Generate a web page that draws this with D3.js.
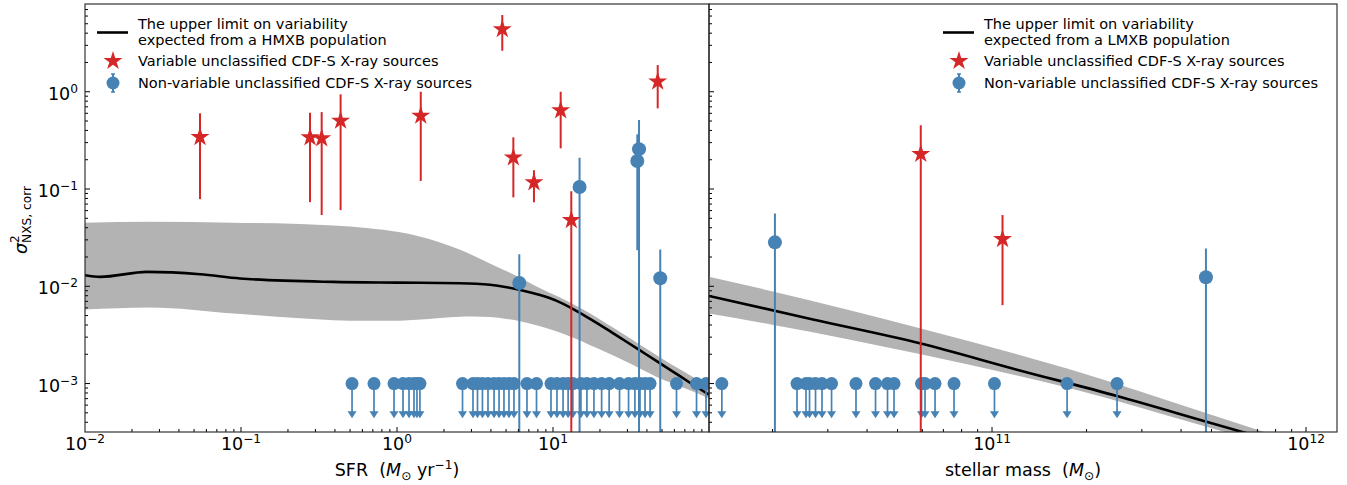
<!DOCTYPE html>
<html><head><meta charset="utf-8">
<script src="https://cdn.jsdelivr.net/npm/d3@7"></script>
<style>
body{margin:0;background:#fff}
svg{display:block}
text{font-family:"DejaVu Sans",sans-serif;fill:#000;white-space:pre}
</style>
</head><body><svg id="c" width="1347" height="485"></svg>
<script>
// ---------------- DATA ----------------
// Left panel: SFR (Msun/yr)
const hmxbX = [0.01, 0.0125, 0.025, 0.0546, 0.0986, 0.389, 1.0, 2.535, 3.945, 5.047, 6.457, 8.26, 10.57, 13.49, 17.26, 22.08, 28.25, 36.14, 46.24, 59.02, 75.51, 100];
const hmxbY = [0.0130, 0.0125, 0.01406, 0.0133, 0.01202, 0.01109, 0.01090, 0.01076, 0.01035, 0.00977, 0.00902, 0.00813, 0.00708, 0.00582, 0.00462, 0.00363, 0.00282, 0.00219, 0.00170, 0.00132, 0.00102, 0.000767];
const hmxbBandX  = [0.01, 0.0261, 0.0893, 0.239, 0.391, 0.64, 1.045, 1.337, 1.89, 2.54, 3.08, 3.94, 5.05, 6.46, 8.26, 10.6, 13.5, 17.3, 22.1, 28.2, 36.1, 46.2, 59.0, 75.5, 100];
const hmxbBandHi = [0.0449, 0.0460, 0.0449, 0.0437, 0.0422, 0.0398, 0.0359, 0.0331, 0.0282, 0.0237, 0.0207, 0.0172, 0.01429, 0.01175, 0.00955, 0.00794, 0.00653, 0.00525, 0.00412, 0.00324, 0.00251, 0.00195, 0.00153, 0.00122, 0.000933];
const hmxbBandLo = [0.00577, 0.00605, 0.00525, 0.00468, 0.00448, 0.00441, 0.00443, 0.00452, 0.00472, 0.00485, 0.00488, 0.00482, 0.00462, 0.00430, 0.00389, 0.00343, 0.00295, 0.00248, 0.00209, 0.00174, 0.00143, 0.00117, 0.0010, 0.000851, 0.000701];

const sfrVarX  = [0.0546, 0.277, 0.329, 0.435, 1.42, 4.73, 5.57, 7.55, 11.2, 13.1, 46.9];
const sfrVarY  = [0.342, 0.339, 0.332, 0.503, 0.566, 4.39, 0.211, 0.117, 0.644, 0.0479, 1.27];
const sfrVarHi = [0.60, 0.608, 0.618, 0.94, 1.0, 6.15, 0.34, 0.156, 1.0, 0.095, 1.88];
const sfrVarLo = [0.0787, 0.0733, 0.054, 0.0607, 0.121, 2.64, 0.082, 0.073, 0.262, 1e-6, 0.675];

const sfrNonX  = [6.08, 14.8, 34.7, 35.6, 48.7];
const sfrNonY  = [0.0108, 0.105, 0.194, 0.257, 0.0121];
const sfrNonHi = [0.0214, 0.21, 0.365, 0.512, 0.0239];
const sfrNonLo = [1e-6, 1e-6, 0.0235, 1e-6, 1e-6];

const sfrLimX = [0.515, 0.712, 0.957, 1.093, 1.194, 1.285, 1.343, 1.403, 2.63, 3.07, 3.28, 3.53, 3.83, 4.19, 4.51, 4.85, 5.22, 5.62, 6.81, 7.84, 9.71, 10.6, 11.6, 12.5, 13.4, 15.1, 16.5, 18.3, 20.5, 22.9, 26.7, 30.5, 33.5, 36.1, 38.9, 41.9, 61.9, 83.2, 95.7];

// Right panel: stellar mass (Msun)
const lmxbX = [1.255e10, 2.69e10, 5.93e10, 1.2e11, 2.5e11, 4.85e11, 1.255e12];
const lmxbY = [0.00796, 0.00456, 0.00258, 0.00139, 0.000745, 0.000403, 0.000167];
const lmxbBandX  = [1.255e10, 2.035e10, 5.93e10, 1.734e11, 4.85e11, 1.255e12];
const lmxbBandHi = [0.0125, 0.00875, 0.00368, 0.001426, 0.000491, 0.000182];
const lmxbBandLo = [0.00525, 0.00398, 0.0020, 0.00091, 0.000357, 0.000148];

const massVarX  = [5.93e10, 1.08e11];
const massVarY  = [0.229, 0.0305];
const massVarHi = [0.453, 0.054];
const massVarLo = [1e-6, 0.0064];

const massNonX  = [2.035e10, 4.8e11];
const massNonY  = [0.0283, 0.0124];
const massNonHi = [0.056, 0.0244];
const massNonLo = [1e-6, 1e-6];

const massLimX = [1.379e10, 2.393e10, 2.556e10, 2.623e10, 2.741e10, 2.874e10, 3.083e10, 3.688e10, 4.256e10, 4.647e10, 4.874e10, 5.964e10, 6.118e10, 6.584e10, 7.568e10, 1.018e11, 1.734e11, 2.501e11];

const limitLevel = 1e-3;
const limitArrowTo = 4.4e-4;

const yTickVals = [1e-3, 1e-2, 1e-1, 1];
const xTickValsL = [1e-2, 1e-1, 1, 10];
const xTickValsR = [1e11, 1e12];

const legendLeft  = ["The upper limit on variability", "expected from a HMXB population", "Variable unclassified CDF-S X-ray sources", "Non-variable unclassified CDF-S X-ray sources"];
const legendRight = ["The upper limit on variability", "expected from a LMXB population", "Variable unclassified CDF-S X-ray sources", "Non-variable unclassified CDF-S X-ray sources"];

// ---------------- LAYOUT ----------------
const RED = "#d62728", BLUE = "#4682b4", BAND = "#b3b3b3";
const yTop = 4, yBot = 432;
const svg = d3.select("#c");
const y = d3.scaleLog().domain([Math.pow(10, -3.498), Math.pow(10, 0.902)]).range([yBot, yTop]);
const xL = d3.scaleLog().domain([0.01, 100]).range([85, 709]);
const xR = d3.scaleLog().domain([1.255e10, 1.255e12]).range([709, 1337]);

function starPath(R) {
  const p = [];
  for (let i = 0; i < 10; i++) {
    const r = i % 2 ? R * 0.382 : R;
    const a = -Math.PI / 2 + i * Math.PI / 5;
    p.push([r * Math.cos(a), r * Math.sin(a)]);
  }
  return "M" + p.map(q => q[0].toFixed(2) + "," + q[1].toFixed(2)).join("L") + "Z";
}
const STAR = starPath(10);

function powLabel(sel, exp, fs, sfs, raise) {
  sel.append("tspan").text("10");
  sel.append("tspan").attr("dy", -raise).attr("font-size", sfs).text(exp < 0 ? "\u2212" + (-exp) : String(exp));
}

function panel(id, x, d) {
  const [x0, x1] = x.range();
  const defs = svg.append("defs");
  defs.append("clipPath").attr("id", id).append("rect")
    .attr("x", x0).attr("y", yTop).attr("width", x1 - x0).attr("height", yBot - yTop);
  const g = svg.append("g").attr("clip-path", `url(#${id})`);

  // band
  const band = d.bandX.map((v, i) => ({x: v, lo: d.bandLo[i], hi: d.bandHi[i]}));
  g.append("path").datum(band)
    .attr("d", d3.area().x(p => x(p.x)).y0(p => y(p.lo)).y1(p => y(p.hi)).curve(d3.curveMonotoneX))
    .attr("fill", BAND);
  // curve
  const cur = d.curX.map((v, i) => ({x: v, y: d.curY[i]}));
  g.append("path").datum(cur)
    .attr("d", d3.line().x(p => x(p.x)).y(p => y(p.y)).curve(d3.curveMonotoneX))
    .attr("fill", "none").attr("stroke", "#000").attr("stroke-width", 2.6);

  // upper limits
  const yl = y(limitLevel), ya = y(limitArrowTo);
  d.limX.forEach(v => {
    const px = x(v);
    g.append("line").attr("x1", px).attr("x2", px).attr("y1", yl).attr("y2", ya - 5)
      .attr("stroke", BLUE).attr("stroke-width", 1.7);
    g.append("path").attr("d", `M${px - 4.5},${ya - 7}L${px + 4.5},${ya - 7}L${px},${ya}Z`).attr("fill", BLUE);
    g.append("circle").attr("cx", px).attr("cy", yl).attr("r", 6.5).attr("fill", BLUE);
  });

  // non-variable with errors
  d.nonX.forEach((v, i) => {
    const px = x(v);
    g.append("line").attr("x1", px).attr("x2", px).attr("y1", y(d.nonLo[i])).attr("y2", y(d.nonHi[i]))
      .attr("stroke", BLUE).attr("stroke-width", 2);
    g.append("circle").attr("cx", px).attr("cy", y(d.nonY[i])).attr("r", 7).attr("fill", BLUE);
  });
  // variable stars
  d.varX.forEach((v, i) => {
    const px = x(v);
    g.append("line").attr("x1", px).attr("x2", px).attr("y1", y(d.varLo[i])).attr("y2", y(d.varHi[i]))
      .attr("stroke", RED).attr("stroke-width", 2);
    g.append("path").attr("d", STAR).attr("transform", `translate(${px},${y(d.varY[i])})`).attr("fill", RED);
  });

  // ticks (inward)
  const tk = svg.append("g").attr("stroke", "#000").attr("stroke-width", 1);
  x.ticks().forEach(t => {
    const lg = Math.log10(t), maj = Math.abs(lg - Math.round(lg)) < 1e-9;
    const px = x(t);
    if (px <= x0 + 0.5 || px >= x1 - 0.5) return;
    tk.append("line").attr("x1", px).attr("x2", px).attr("y1", yBot).attr("y2", yBot - (maj ? 5 : 3));
  });
  y.ticks().forEach(t => {
    const lg = Math.log10(t), maj = Math.abs(lg - Math.round(lg)) < 1e-9;
    const py = y(t);
    tk.append("line").attr("x1", x0).attr("x2", x0 + (maj ? 5 : 3)).attr("y1", py).attr("y2", py);
  });
  // x tick labels
  d.xTicks.forEach(t => {
    const tx = svg.append("text").attr("x", x(t)).attr("y", 450).attr("text-anchor", "middle").attr("font-size", 17.5);
    powLabel(tx, Math.round(Math.log10(t)), 17.5, 12.2, 7);
  });
  // frame
  svg.append("rect").attr("x", x0).attr("y", yTop).attr("width", x1 - x0).attr("height", yBot - yTop)
    .attr("fill", "none").attr("stroke", "#222").attr("stroke-width", 1.1);

  // legend
  const lx = d.legX;
  const lg = svg.append("g");
  lg.append("line").attr("x1", lx).attr("x2", lx + 31).attr("y1", 32.5).attr("y2", 32.5).attr("stroke", "#000").attr("stroke-width", 2.6);
  lg.append("path").attr("d", STAR).attr("transform", `translate(${lx + 16},61)`).attr("fill", RED);
  lg.append("line").attr("x1", lx + 16).attr("x2", lx + 16).attr("y1", 74).attr("y2", 92).attr("stroke", BLUE).attr("stroke-width", 2);
  lg.append("line").attr("x1", lx + 14).attr("x2", lx + 18).attr("y1", 74).attr("y2", 74).attr("stroke", BLUE).attr("stroke-width", 1.5);
  lg.append("line").attr("x1", lx + 14).attr("x2", lx + 18).attr("y1", 92).attr("y2", 92).attr("stroke", BLUE).attr("stroke-width", 1.5);
  lg.append("circle").attr("cx", lx + 16).attr("cy", 83).attr("r", 6.5).attr("fill", BLUE);
  const ty = [28.5, 45, 66, 88];
  d.legend.forEach((s, i) => {
    lg.append("text").attr("x", lx + 41).attr("y", ty[i]).attr("font-size", 14.5).text(s);
  });
}

panel("clipL", xL, {
  bandX: hmxbBandX, bandLo: hmxbBandLo, bandHi: hmxbBandHi, curX: hmxbX, curY: hmxbY,
  limX: sfrLimX, nonX: sfrNonX, nonY: sfrNonY, nonLo: sfrNonLo, nonHi: sfrNonHi,
  varX: sfrVarX, varY: sfrVarY, varLo: sfrVarLo, varHi: sfrVarHi,
  xTicks: xTickValsL, legX: 97, legend: legendLeft
});
panel("clipR", xR, {
  bandX: lmxbBandX, bandLo: lmxbBandLo, bandHi: lmxbBandHi, curX: lmxbX, curY: lmxbY,
  limX: massLimX, nonX: massNonX, nonY: massNonY, nonLo: massNonLo, nonHi: massNonHi,
  varX: massVarX, varY: massVarY, varLo: massVarLo, varHi: massVarHi,
  xTicks: xTickValsR, legX: 943, legend: legendRight
});

// y tick labels (left only)
yTickVals.forEach(t => {
  const tx = svg.append("text").attr("x", 78).attr("y", y(t) + 8).attr("text-anchor", "end").attr("font-size", 17.5);
  powLabel(tx, Math.round(Math.log10(t)), 17.5, 12.2, 7);
});

// x axis labels
const xl1 = svg.append("text").attr("x", 397).attr("y", 476).attr("text-anchor", "middle").attr("font-size", 17.5);
xl1.append("tspan").text("SFR  (");
xl1.append("tspan").attr("font-style", "italic").text("M");
xl1.append("tspan").attr("font-size", 12.2).attr("dy", 4).text("\u2299");
xl1.append("tspan").attr("dy", -4).text(" yr");
xl1.append("tspan").attr("font-size", 12.2).attr("dy", -7).text("\u22121");
xl1.append("tspan").attr("dy", 7).text(")");

const xl2 = svg.append("text").attr("x", 1023).attr("y", 476).attr("text-anchor", "middle").attr("font-size", 17.5);
xl2.append("tspan").text("stellar mass  (");
xl2.append("tspan").attr("font-style", "italic").text("M");
xl2.append("tspan").attr("font-size", 12.2).attr("dy", 4).text("\u2299");
xl2.append("tspan").attr("dy", -4).text(")");

// y axis label
const yl = svg.append("text").attr("transform", "translate(27,220) rotate(-90)").attr("text-anchor", "middle").attr("font-size", 17.5);
yl.append("tspan").attr("font-style", "italic").text("\u03c3");
const sup = yl.append("tspan").attr("font-size", 12.2).attr("dy", -8).text("2");
const supW = sup.node().getComputedTextLength();
yl.append("tspan").attr("font-size", 12.2).attr("dx", -supW).attr("dy", 12).text("NXS, corr");
</script></body></html>
